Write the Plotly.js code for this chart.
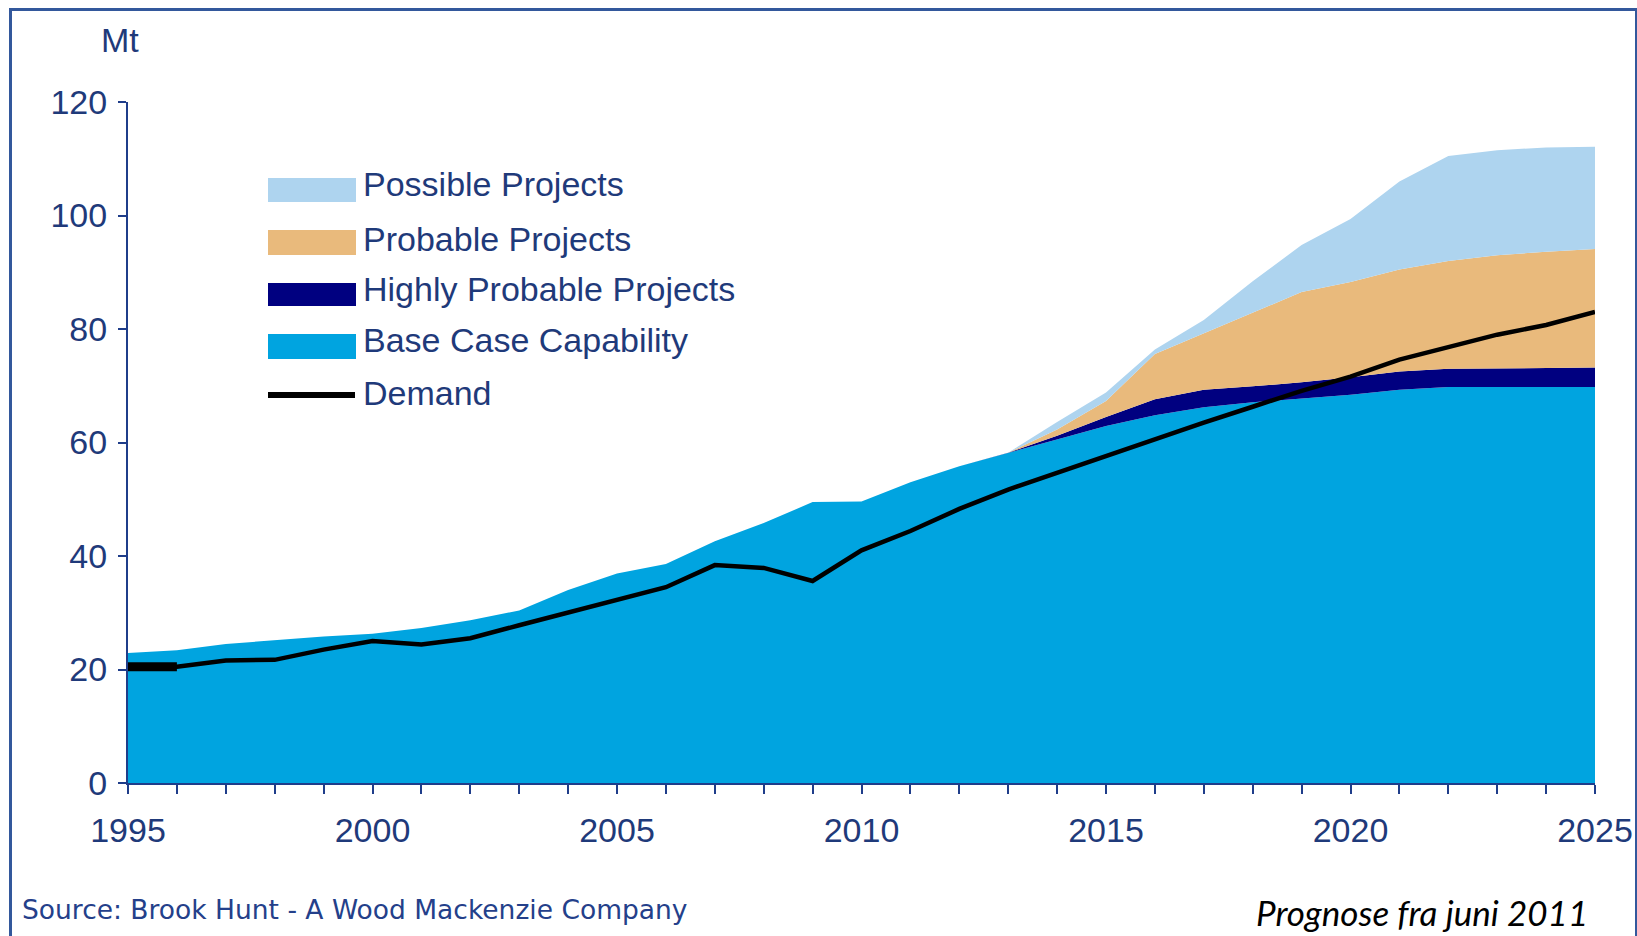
<!DOCTYPE html>
<html><head><meta charset="utf-8">
<script src="https://cdn.plot.ly/plotly-3.0.1.min.js"></script>
<style>
html,body{margin:0;padding:0;background:#fff;overflow:hidden}
#chart{position:absolute;left:0;top:0;width:1637px;height:936px}
#frame{position:absolute;left:9px;top:8px;width:1623px;height:940px;border:3px solid #33589c;border-bottom:none;pointer-events:none}
</style></head><body>
<div id="chart"></div><div id="frame"></div>
<script>
// ---------------- data ----------------
const years = [1995,1996,1997,1998,1999,2000,2001,2002,2003,2004,2005,2006,2007,2008,2009,2010,
               2011,2012,2013,2014,2015,2016,2017,2018,2019,2020,2021,2022,2023,2024,2025];
const baseCase = [22.9,23.4,24.5,25.2,25.8,26.3,27.3,28.7,30.4,34.0,36.9,38.6,42.6,45.8,49.5,49.6,
                  53.0,55.8,58.2,60.6,62.9,64.8,66.2,67.1,67.8,68.4,69.3,69.8,69.8,69.8,69.8];
const highlyProbable = [0,0,0,0,0,0,0,0,0,0,0,0,0,0,0,0,
                  0,0,0,0.6,1.6,2.8,3.1,2.8,2.8,3.1,3.2,3.2,3.3,3.4,3.4];
const probable = [0,0,0,0,0,0,0,0,0,0,0,0,0,0,0,0,
                  0,0,0,1.1,2.8,8.0,9.9,12.9,15.9,16.8,18.0,19.0,19.9,20.4,20.9];
const possible = [0,0,0,0,0,0,0,0,0,0,0,0,0,0,0,0,
                  0,0,0,1.3,1.5,0.8,2.4,5.6,8.3,11.1,15.5,18.5,18.5,18.4,18.0];
const demand = [20.5,20.5,21.6,21.7,23.5,25.0,24.4,25.5,27.8,30.0,32.3,34.5,38.4,37.9,35.6,41.0,
                44.4,48.3,51.7,54.7,57.6,60.5,63.5,66.3,69.1,71.6,74.6,76.8,79.0,80.7,83.0];
const demandHistYears = [1995,1996];
const demandHist = [20.5,20.5];
const seriesNames = ["Possible Projects","Probable Projects","Highly Probable Projects","Base Case Capability","Demand"];
const yTicks = [0,20,40,60,80,100,120];
const xTickVals = [1995,2000,2005,2010,2015,2020,2025];
const xTickText = ["1995","2000","2005","2010","2015","2020","2025"];
const yUnit = "Mt";
const sourceText = "Source: Brook Hunt - A Wood Mackenzie Company";
const noteText = "Prognose fra juni 2011";

// ---------------- style ----------------
const colors = {possible:"#aed4ef", probable:"#e9ba7c", hp:"#000080", base:"#00a4e0", demand:"#000000"};
const axisColor = "#1f3d8a";
const textColor = "#1f3a7a";
const mainFont = "'Liberation Sans',Arial,sans-serif";

const W = 1637, H = 936, L = 128, R = 1595, T = 102, B = 783;
const px = x => (x - L) / (R - L);
const py = y => (B - y) / (B - T);

function area(y, name, color){
  return {x: years, y: y, name: name, type:'scatter', mode:'lines', stackgroup:'cap',
          line:{width:0, color:color}, fillcolor:color, showlegend:false, hoverinfo:'skip'};
}
const traces = [
  area(baseCase, seriesNames[3], colors.base),
  area(highlyProbable, seriesNames[2], colors.hp),
  area(probable, seriesNames[1], colors.probable),
  area(possible, seriesNames[0], colors.possible),
  {x: years, y: demand, name: seriesNames[4], type:'scatter', mode:'lines',
   line:{color:colors.demand, width:4.5}, showlegend:false, cliponaxis:false},
  {x: demandHistYears, y: demandHist, type:'scatter', mode:'lines',
   line:{color:colors.demand, width:9}, showlegend:false, hoverinfo:'skip'}
];

// custom legend
const swatchRows = [[178,202],[230,255],[283,306],[334,359]];
const swatchColors = [colors.possible, colors.probable, colors.hp, colors.base];
const textY = [184,238.5,289,340,392.5];
const shapes = swatchRows.map((r,i)=>({type:'rect', xref:'paper', yref:'paper',
  x0:px(268), x1:px(356), y0:py(r[1]), y1:py(r[0]), fillcolor:swatchColors[i], line:{width:0}}));
shapes.push({type:'line', xref:'paper', yref:'paper', x0:px(268), x1:px(355), y0:py(395), y1:py(395),
  line:{color:colors.demand, width:6}});

const annotations = seriesNames.map((n,i)=>({xref:'paper', yref:'paper', x:px(361), y:py(textY[i]),
  xanchor:'left', yanchor:'middle', text:n, showarrow:false,
  font:{family:mainFont, size:34, color:textColor}}));
annotations.push({xref:'paper', yref:'paper', x:px(120), y:py(40), xanchor:'center', yanchor:'middle',
  text:yUnit, showarrow:false, font:{family:mainFont, size:34, color:textColor}});
annotations.push({xref:'paper', yref:'paper', x:px(20), y:py(909), xanchor:'left', yanchor:'middle',
  text:sourceText, showarrow:false, font:{family:"'DejaVu Sans',sans-serif", size:26.5, color:"#24408a"}});
annotations.push({xref:'paper', yref:'paper', x:px(1590), y:py(911.5), xanchor:'right', yanchor:'middle',
  text:noteText, showarrow:false, font:{family:"Lato,sans-serif", size:35, style:'italic', color:"#000"}});

const layout = {
  width:W, height:H, margin:{l:L, r:W-R, t:T, b:H-B, pad:0},
  paper_bgcolor:'rgba(0,0,0,0)', plot_bgcolor:'rgba(0,0,0,0)',
  showlegend:false,
  xaxis:{range:[1995,2025], tickmode:'array', tickvals:xTickVals, ticktext:xTickText,
    showgrid:false, zeroline:false, showline:true, linecolor:axisColor, linewidth:2,
    ticks:'outside', ticklen:9, tickwidth:2, tickcolor:axisColor, ticklabelstandoff:7,
    ticklabeloverflow:'allow',
    minor:{dtick:1, tick0:1995, ticks:'outside', ticklen:9, tickwidth:2, tickcolor:axisColor, showgrid:false},
    tickfont:{family:mainFont, size:34, color:textColor}, fixedrange:true},
  yaxis:{range:[0,120], tickmode:'array', tickvals:yTicks,
    showgrid:false, zeroline:false, showline:true, linecolor:axisColor, linewidth:2,
    ticks:'outside', ticklen:8, tickwidth:2, tickcolor:axisColor, ticklabelstandoff:4,
    tickfont:{family:mainFont, size:34, color:textColor}, fixedrange:true},
  shapes:shapes, annotations:annotations
};
Plotly.newPlot('chart', traces, layout, {staticPlot:true, displayModeBar:false});
</script>
</body></html>
